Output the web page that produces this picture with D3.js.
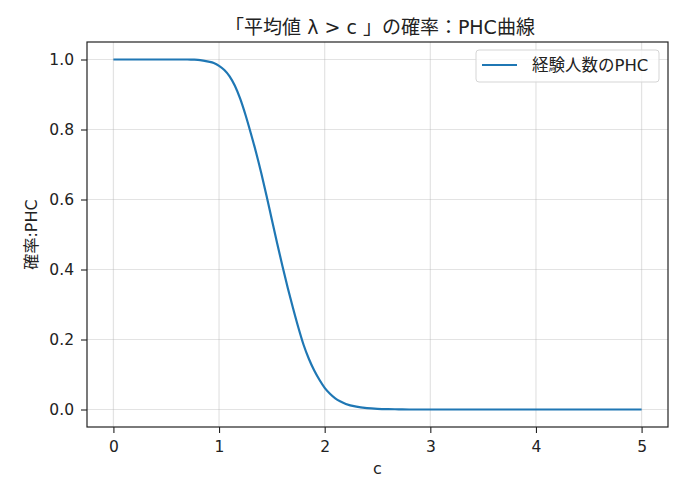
<!DOCTYPE html>
<html><head><meta charset="utf-8">
<script src="https://cdn.jsdelivr.net/npm/d3@7"></script>
<style>body{margin:0;background:#fff}svg{display:block}text{font-family:"DejaVu Sans","Noto Sans CJK JP",sans-serif;fill:#222}</style>
</head><body>
<svg id="c" width="695" height="490"></svg>
<script>
const cValues = [0,0.1,0.2,0.3,0.4,0.5,0.6,0.7,0.75,0.8,0.85,0.9,0.95,1.0,1.05,1.1,1.15,1.2,1.25,1.3,1.35,1.4,1.45,1.5,1.55,1.6,1.65,1.7,1.75,1.8,1.85,1.9,1.95,2.0,2.05,2.1,2.15,2.2,2.3,2.4,2.5,2.6,2.7,2.8,3.0,3.5,4.0,4.5,5.0];
const phcValues = [1,1,1,1,1,1,1,1,0.9995,0.999,0.997,0.994,0.99,0.982,0.97,0.952,0.925,0.888,0.842,0.79,0.735,0.675,0.61,0.542,0.475,0.41,0.348,0.29,0.235,0.185,0.145,0.112,0.085,0.062,0.045,0.032,0.023,0.016,0.008,0.004,0.002,0.001,0.0005,0,0,0,0,0,0];
const xTicks = [0,1,2,3,4,5];
const yTicks = [0,0.2,0.4,0.6,0.8,1.0];
const titleText = "「平均値 λ > c 」の確率：PHC曲線";
const xLabel = "c";
const yLabel = "確率:PHC";
const legendLabel = "経験人数のPHC";

const svg = d3.select("#c");
const L=87,R=668,T=42,B=427;
const x = d3.scaleLinear().domain([-0.25,5.25]).range([L,R]);
const y = d3.scaleLinear().domain([-0.05,1.05]).range([B,T]);

const g = svg.append("g");
g.selectAll(".gx").data(xTicks).enter().append("line")
 .attr("x1",d=>x(d)).attr("x2",d=>x(d)).attr("y1",T).attr("y2",B)
 .attr("stroke","#b0b0b0").attr("stroke-opacity",0.35).attr("stroke-width",1.2);
g.selectAll(".gy").data(yTicks).enter().append("line")
 .attr("y1",d=>y(d)).attr("y2",d=>y(d)).attr("x1",L).attr("x2",R)
 .attr("stroke","#b0b0b0").attr("stroke-opacity",0.35).attr("stroke-width",1.2);

const data = cValues.map((c,i)=>({c, v:phcValues[i]}));
g.append("path").datum(data)
 .attr("d", d3.line().x(d=>x(d.c)).y(d=>y(d.v)).curve(d3.curveMonotoneX))
 .attr("fill","none").attr("stroke","#1f77b4").attr("stroke-width",2.2);

const xa = svg.append("g").attr("transform",`translate(0,${B})`)
 .call(d3.axisBottom(x).tickValues(xTicks).tickFormat(d3.format("d")).tickSize(6).tickPadding(8));
const ya = svg.append("g").attr("transform",`translate(${L},0)`)
 .call(d3.axisLeft(y).tickValues(yTicks).tickFormat(d3.format(".1f")).tickSize(6).tickPadding(7));
[xa,ya].forEach(a=>{a.select(".domain").remove();a.selectAll("line").attr("stroke","#222").attr("stroke-width",1.1);
 a.selectAll("text").style("font-size","15.5px").style("font-family","DejaVu Sans").attr("fill","#222");});
svg.append("rect").attr("x",L).attr("y",T).attr("width",R-L).attr("height",B-T)
 .attr("fill","none").attr("stroke","#222").attr("stroke-width",1.2);

svg.append("text").attr("x",380).attr("y",34).attr("text-anchor","middle")
 .style("font-size","19px").text(titleText);
svg.append("text").attr("x",(L+R)/2).attr("y",474).attr("text-anchor","middle")
 .style("font-size","16px").text(xLabel);
svg.append("text").attr("transform",`translate(37,${(T+B)/2}) rotate(-90)`).attr("text-anchor","middle")
 .style("font-size","16px").text(yLabel);

const lg = svg.append("g");
lg.append("rect").attr("x",476).attr("y",50).attr("width",183).attr("height",32).attr("rx",3)
 .attr("fill","#fff").attr("fill-opacity",0.8).attr("stroke","#d5d5d5");
lg.append("line").attr("x1",482).attr("x2",517).attr("y1",65).attr("y2",65)
 .attr("stroke","#1f77b4").attr("stroke-width",2.2);
lg.append("text").attr("x",532).attr("y",71).style("font-size","16.5px").text(legendLabel);
</script>
</body></html>
